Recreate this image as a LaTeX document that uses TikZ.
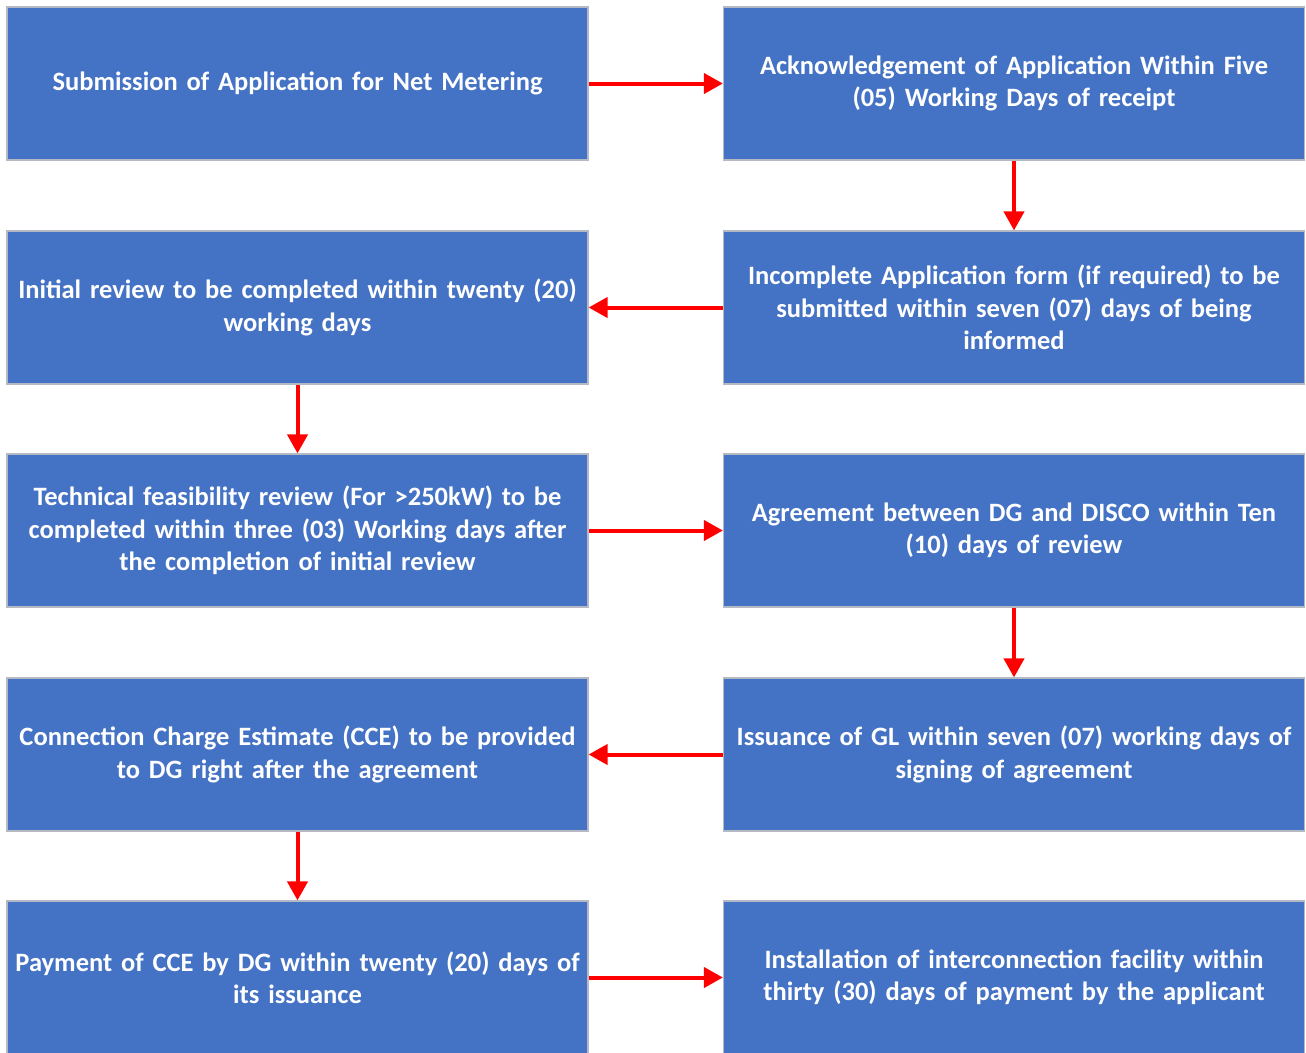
\documentclass[tikz,border=0pt]{standalone}
\usepackage{fontspec}
\setmainfont{Carlito}
\usetikzlibrary{arrows.meta}
\definecolor{boxblue}{HTML}{4472C4}
\definecolor{boxedge}{HTML}{B4B9C4}
\definecolor{arr}{HTML}{FF0000}
\tikzset{
  stepbox/.style={draw=boxedge, line width=1.2pt, fill=boxblue, minimum width=581pt, minimum height=153pt,
    text=white, align=center, font=\bfseries\fontsize{26.5}{32.5}\selectfont, inner sep=0pt, text width=581pt},
  flow/.style={draw=arr, line width=4pt, -{Triangle[length=19pt,width=20pt]}}
}
\begin{document}
\begin{tikzpicture}[x=1pt,y=1pt]
\useasboundingbox (0,0) rectangle (1306,-1052);
\node[stepbox] (a) at (297.5,-83.5) {Submission of Application for Net Metering};
\node[stepbox] (b) at (1014,-83.5) {Acknowledgement of Application Within Five\\(05) Working Days of receipt};
\node[stepbox] (c) at (1014,-307.5) {Incomplete Application form (if required) to be\\submitted within seven (07) days of being\\informed};
\node[stepbox] (d) at (297.5,-307.5) {Initial review to be completed within twenty (20)\\working days};
\node[stepbox] (e) at (297.5,-530.5) {Technical feasibility review (For >250kW) to be\\completed within three (03) Working days after\\the completion of initial review};
\node[stepbox] (f) at (1014,-530.5) {Agreement between DG and DISCO within Ten\\(10) days of review};
\node[stepbox] (g) at (1014,-754.5) {Issuance of GL within seven (07) working days of\\signing of agreement};
\node[stepbox] (h) at (297.5,-754.5) {Connection Charge Estimate (CCE) to be provided\\to DG right after the agreement};
\node[stepbox] (i) at (297.5,-977.5) {Payment of CCE by DG within twenty (20) days of\\its issuance};
\node[stepbox] (j) at (1014,-977.5) {Installation of interconnection facility within\\thirty (30) days of payment by the applicant};
\draw[flow] (a.east) -- (b.west);
\draw[flow] (b.south) -- (c.north);
\draw[flow] (c.west) -- (d.east);
\draw[flow] (d.south) -- (e.north);
\draw[flow] (e.east) -- (f.west);
\draw[flow] (f.south) -- (g.north);
\draw[flow] (g.west) -- (h.east);
\draw[flow] (h.south) -- (i.north);
\draw[flow] (i.east) -- (j.west);
\end{tikzpicture}
\end{document}
